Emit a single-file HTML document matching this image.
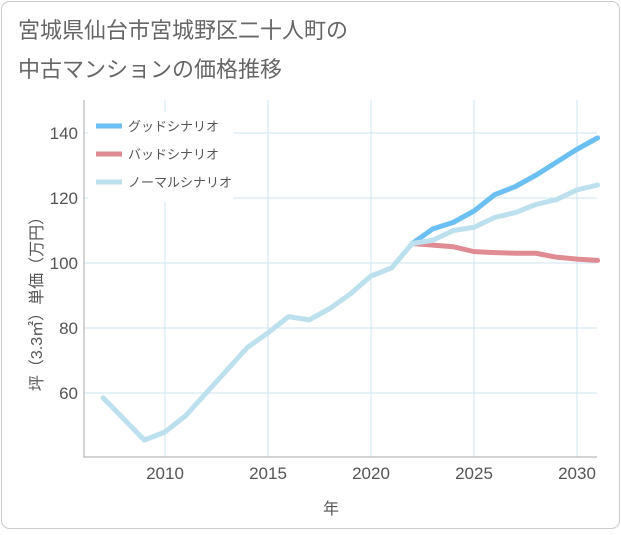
<!DOCTYPE html>
<html><head><meta charset="utf-8"><style>
body{margin:0;background:#fff;}
#c{position:relative;width:621px;height:530px;font-family:"Liberation Sans","Noto Sans CJK JP",sans-serif;}
</style></head><body>
<div id="c">
<svg id="s" width="621" height="530">
<rect x="1.5" y="1.5" width="618" height="527" rx="8" fill="#fff" stroke="#ccc"/>
<text x="18" y="38" font-size="22" fill="#666" font-family="Liberation Sans,Noto Sans CJK JP,sans-serif">宮城県仙台市宮城野区二十人町の</text>
<text x="18" y="77" font-size="22" fill="#666" font-family="Liberation Sans,Noto Sans CJK JP,sans-serif">中古マンションの価格推移</text>
<g id="grid"></g><g id="series"></g><g id="legend"></g>
<text x="331" y="514" font-size="16" fill="#555" text-anchor="middle" font-family="Liberation Sans,Noto Sans CJK JP,sans-serif">年</text>
<text transform="translate(42,300) rotate(-90)" font-size="16" fill="#555" text-anchor="middle" font-family="Liberation Sans,Noto Sans CJK JP,sans-serif">坪（3.3㎡）単価（万円）</text>
</svg></div>
<script>
const years=[2007,2008,2009,2010,2011,2012,2013,2014,2015,2016,2017,2018,2019,2020,2021,2022,2023,2024,2025,2026,2027,2028,2029,2030,2031];
const normalValues=[58.5,52,45.5,48,53,60,67,74,78.5,83.5,82.5,86,90.5,96,98.5,106,107,110,111,114,115.5,118,119.5,122.5,124];
const futureYears=[2022,2023,2024,2025,2026,2027,2028,2029,2030,2031];
const goodValues=[106,110.5,112.5,116,121,123.5,127,131,135,138.5];
const badValues=[106,105.5,105,103.5,103.2,103,103,101.8,101.2,100.8];
const xTicks=[2010,2015,2020,2025,2030];
const yTicks=[60,80,100,120,140];
const legendLabels=["グッドシナリオ","バッドシナリオ","ノーマルシナリオ"];
const legendColors=["#6bbff2","#e08a92","#bde0ee"];
const ns="http://www.w3.org/2000/svg";
const L=84,R=597,T=100,B=457;
const xs=y=>165+(y-2010)*20.6;
const ys=v=>263-(v-100)*3.25;
function mk(tag,attrs,parent){const e=document.createElementNS(ns,tag);for(const k in attrs)e.setAttribute(k,attrs[k]);parent.appendChild(e);return e;}
const grid=document.getElementById('grid');
xTicks.forEach(t=>{
 const l=mk('line',{x1:xs(t),x2:xs(t),y1:T,y2:B,stroke:'#cfe4f2'},grid);
 
 
 const tx=mk('text',{x:xs(t),y:B+22,'font-size':17,fill:'#555','text-anchor':'middle'},grid);
 tx.textContent=t;
 
 
});
yTicks.forEach(t=>{
 const l=mk('line',{x1:L,x2:R,y1:ys(t),y2:ys(t),stroke:'#cfe4f2'},grid);
 
 
 const tx=mk('text',{x:L-6,y:ys(t)+6,'font-size':17,fill:'#555','text-anchor':'end'},grid);
 tx.textContent=t;
 
 
});
const ax=mk('path',{d:`M${L},${T}V${B}H${R}`,fill:'none',stroke:'#aaa'},grid);


const sg=document.getElementById('series');
function line(xv,vals,color,name){
 const p=mk('polyline',{points:xv.map((y,i)=>xs(y)+','+ys(vals[i])).join(' '),fill:'none',stroke:color,'stroke-width':5,'stroke-linejoin':'round','stroke-linecap':'round'},sg);
 
 
}
line(futureYears,goodValues,legendColors[0],'good-scenario-line');
line(futureYears,badValues,legendColors[1],'bad-scenario-line');
line(years,normalValues,legendColors[2],'normal-scenario-line');
const lg=document.getElementById('legend');
const bg=mk('rect',{x:88,y:112,width:145,height:90,fill:'#fff'},lg);


legendLabels.forEach((t,i)=>{
 const y=126+i*28;
 const l=mk('line',{x1:96,x2:122,y1:y,y2:y,stroke:legendColors[i],'stroke-width':5},lg);
 
 
 const tx=mk('text',{x:128,y:y+5,'font-size':13,fill:'#555'},lg);
 tx.textContent=t;
 
 
});
</script>
</body></html>
